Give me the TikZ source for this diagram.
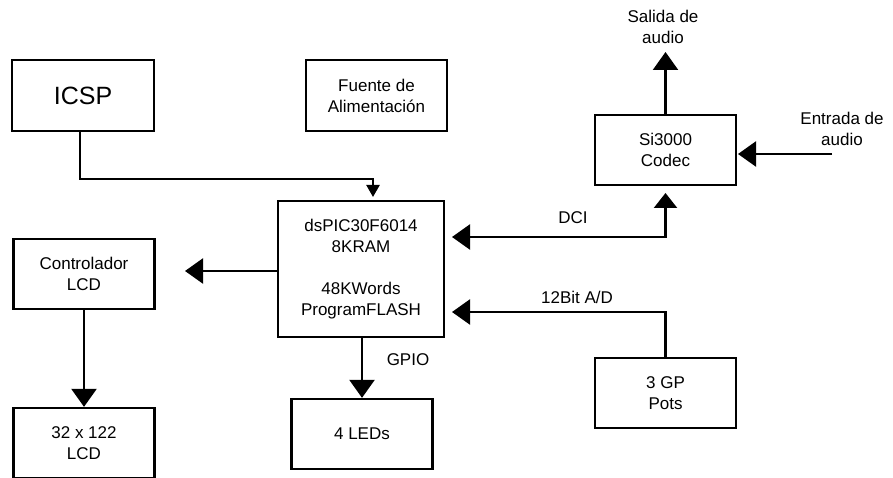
\documentclass[tikz,border=0pt]{standalone}
\usepackage{fontspec}
\setmainfont{Liberation Sans}
\usetikzlibrary{arrows.meta}
\begin{document}
\begin{tikzpicture}[x=1pt,y=-1pt,
  box/.style={draw, line width=2.3pt, inner sep=0pt, align=center, font=\fontsize{17}{21}\selectfont},
  conn/.style={line width=2.3pt, -{Triangle[length=18pt,width=25pt]}},
  smallconn/.style={line width=2.3pt, -{Triangle[length=12pt,width=13pt]}},
  lbl/.style={align=center, inner sep=0pt, font=\fontsize{17}{21}\selectfont}]
\useasboundingbox (0,0) rectangle (893,478);
% boxes
\node[box, minimum width=142pt, minimum height=71pt, font=\fontsize{25}{30}\selectfont] (icsp) at (83,95.5) {ICSP};
\node[box, minimum width=141pt, minimum height=71pt] (fuente) at (376.5,95.5) {Fuente de\\Alimentación};
\node[box, minimum width=141pt, minimum height=70pt] (si) at (665.5,150) {Si3000\\Codec};
\node[box, minimum width=166pt, minimum height=136pt] (dspic) at (361,269) {dsPIC30F6014\\8KRAM\\[21pt]48KWords\\ProgramFLASH};
\node[box, minimum width=141pt, minimum height=70pt] (ctrl) at (84,274) {Controlador\\LCD};
\node[box, minimum width=141pt, minimum height=70pt] (lcd) at (84,443) {32 x 122\\LCD};
\node[box, minimum width=141pt, minimum height=70pt] (leds) at (362,434) {4 LEDs};
\node[box, minimum width=141pt, minimum height=70pt] (pots) at (665.5,393) {3 GP\\Pots};
% free labels
\node[lbl] (salida) at (663,27) {Salida de\\audio};
\node[lbl] (entrada) at (842,129) {Entrada de\\audio};
\node[lbl] (dci) at (573,218) {DCI};
\node[lbl] (ad) at (577,297) {12Bit A/D};
\node[lbl] (gpio) at (408,360) {GPIO};
% connector end points
\coordinate (icspout) at (80,131);
\coordinate (icspin) at (373,197);
\coordinate (ctrlin) at (185,271);
\coordinate (dcia) at (452,237);
\coordinate (dcib) at (665.5,193);
\coordinate (adin) at (452,312);
\coordinate (sout) at (665.5,52);
\coordinate (ein) at (832,154);
\coordinate (siin) at (738,154);
% connectors
\draw[smallconn] (icspout) -- ++(0,48) -| (icspin);
\draw[conn] (dspic.west |- ctrlin) -- (ctrlin);
\draw[conn] (ctrl.south) -- (lcd.north);
\draw[conn] (dspic.south -| leds.north) -- (leds.north);
\draw[conn, {Triangle[length=18pt,width=25pt]}-{Triangle[length=15pt,width=23pt]}] (dcia) -| (dcib);
\draw[conn] (pots.north) |- (adin);
\draw[conn] (si.north) -- (sout);
\draw[conn] (ein) -- (siin);
\end{tikzpicture}
\end{document}
